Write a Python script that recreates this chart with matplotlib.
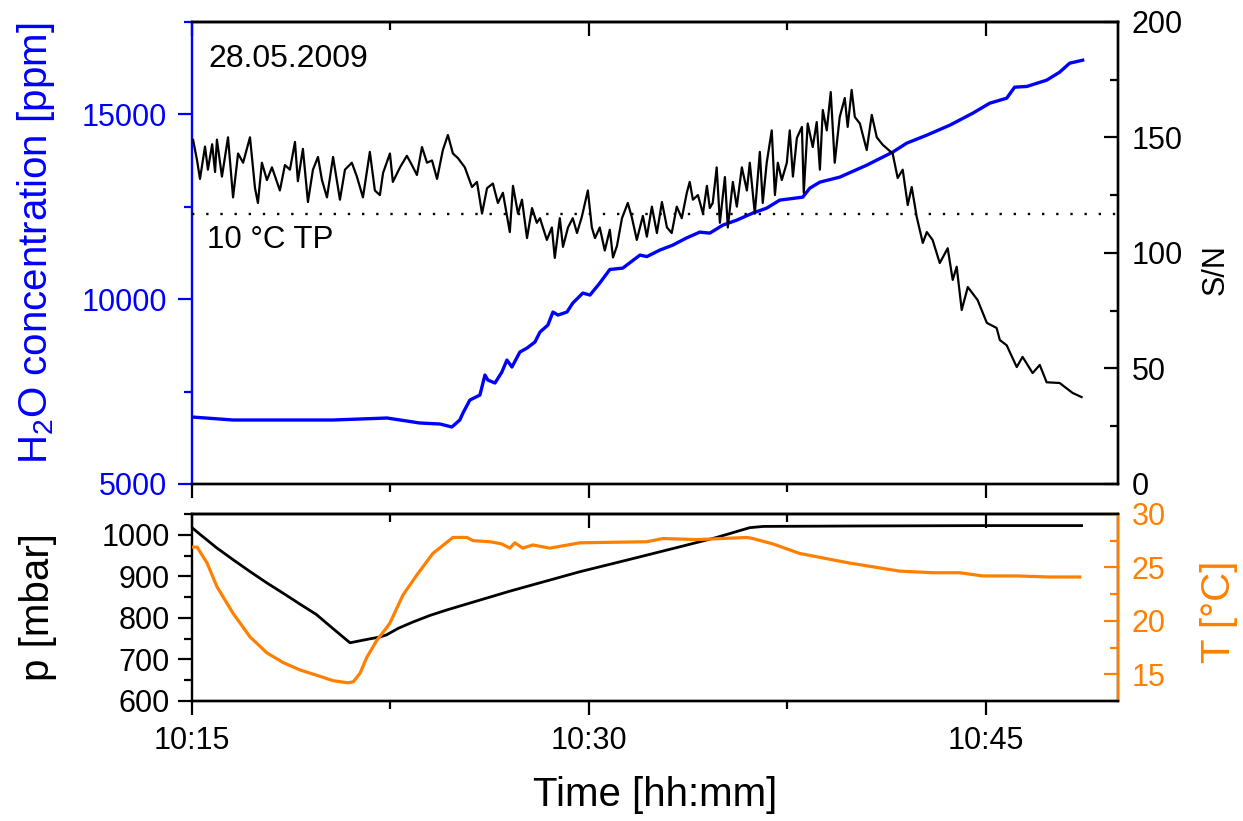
import matplotlib
matplotlib.use('Agg')
import matplotlib.pyplot as plt
from matplotlib.ticker import MultipleLocator, FuncFormatter, NullFormatter

plt.rcParams['font.family'] = ['Liberation Sans', 'DejaVu Sans']
plt.rcParams['mathtext.default'] = 'regular'

# ---------------- data (time in minutes after 10:15) ----------------
h2o_t = [0.00, 1.55, 5.33, 7.37, 8.61, 9.37, 9.82, 10.12, 10.24, 10.50,
         10.88, 11.07, 11.18, 11.45, 11.71, 11.90, 12.09, 12.39, 12.66, 12.96,
         13.15, 13.45, 13.64, 13.83, 14.17, 14.39, 14.77, 15.04, 15.41, 15.79,
         16.28, 16.93, 17.19, 17.68, 18.17, 18.68, 19.19, 19.57, 20.06, 20.59,
         21.19, 21.72, 22.21, 23.08, 23.35, 23.73, 24.48, 25.50, 26.48, 27.01,
         27.77, 28.64, 29.51, 30.15, 30.79, 31.09, 31.55, 32.30, 32.79, 33.17,
         33.66]
h2o_ppm = [6811, 6730, 6730, 6784, 6649, 6622, 6541, 6730, 6919, 7270,
           7405, 7946, 7811, 7730, 8027, 8352, 8163, 8568, 8676, 8838,
           9108, 9298, 9650, 9568, 9650, 9892, 10163, 10109, 10433, 10800,
           10838, 11190, 11150, 11325, 11460, 11650, 11811, 11784, 12000, 12136,
           12325, 12460, 12676, 12757, 13000, 13163, 13298, 13622, 13974, 14217,
           14433, 14703, 15028, 15298, 15433, 15731, 15750, 15920, 16136, 16380,
           16460]

sn_t = [0.04, 0.19, 0.30, 0.49, 0.60, 0.76, 0.87, 0.94, 1.13, 1.36,
        1.55, 1.74, 1.93, 2.19, 2.38, 2.49, 2.64, 2.83, 3.02, 3.32,
        3.51, 3.70, 3.89, 4.00, 4.19, 4.38, 4.57, 4.76, 4.91, 5.10,
        5.33, 5.59, 5.78, 6.04, 6.23, 6.46, 6.72, 6.91, 7.10, 7.22,
        7.48, 7.59, 7.86, 8.12, 8.31, 8.50, 8.69, 8.88, 9.07, 9.26,
        9.48, 9.67, 9.86, 10.05, 10.31, 10.58, 10.77, 10.96, 11.15, 11.37,
        11.56, 11.75, 12.01, 12.13, 12.32, 12.47, 12.66, 12.85, 13.03, 13.15,
        13.41, 13.60, 13.71, 13.90, 14.02, 14.21, 14.39, 14.55, 14.73, 14.96,
        15.11, 15.23, 15.41, 15.60, 15.79, 15.91, 16.06, 16.25, 16.47, 16.62,
        16.81, 17.04, 17.19, 17.38, 17.57, 17.76, 17.95, 18.13, 18.32, 18.51,
        18.70, 18.81, 18.93, 19.12, 19.31, 19.46, 19.57, 19.68, 19.83, 19.95,
        20.14, 20.25, 20.44, 20.59, 20.78, 20.97, 21.08, 21.27, 21.46, 21.57,
        21.72, 21.91, 22.03, 22.14, 22.29, 22.48, 22.59, 22.71, 22.86, 23.05,
        23.12, 23.27, 23.46, 23.61, 23.73, 23.84, 23.99, 24.14, 24.29, 24.48,
        24.67, 24.78, 24.93, 25.05, 25.24, 25.50, 25.69, 25.88, 26.11, 26.48,
        26.67, 26.86, 27.05, 27.20, 27.39, 27.62, 27.77, 27.99, 28.26, 28.56,
        28.75, 28.90, 29.09, 29.32, 29.69, 30.04, 30.41, 30.53, 30.79, 31.17,
        31.39, 31.77, 32.04, 32.30, 32.79, 33.28, 33.62]
sn_val = [148.9, 140, 132, 146, 136, 147, 135, 149, 133, 150,
          124, 143, 139, 150, 128, 121.6, 139, 131.5, 137, 127,
          138, 136, 148, 131, 145, 122, 136, 141.5, 131.5, 124,
          141.5, 123, 136, 139, 133, 124, 143.7, 127, 125, 134.6,
          143, 130.7, 137, 142, 138, 133.7, 145.8, 139, 140, 132,
          144.5, 151, 143, 141, 137, 128.5, 130.7, 117, 128, 130,
          121.6, 126, 109, 129, 117, 123, 106.4, 119.4, 113, 115,
          105.6, 111, 97.8, 115, 102.6, 111, 115, 108.6, 115.5, 127,
          111, 106.4, 111, 101, 110, 98, 103, 115, 121.6, 115.5,
          105.6, 116, 107, 120, 108.6, 122, 111, 108.6, 120, 115,
          126, 130.7, 123, 125, 117, 129, 119.4, 121.6, 137, 113,
          132.8, 111, 130.7, 120, 137, 127, 139, 117, 143.7, 121.6,
          139, 153, 125, 139, 131.5, 139, 153, 133, 149.7, 154.5,
          126, 156, 145.8, 156.6, 136, 161.8, 153, 169.6, 139, 158.8,
          167, 154.5, 170.5, 158.8, 156, 144.5, 159.7, 150, 146.7, 143,
          132.4, 136, 120.7, 128.5, 115.5, 104.3, 109, 105.6, 95.6, 102,
          88.3, 94, 75.3, 85.2, 79.6, 69.7, 67.5, 62.3, 60, 50.6,
          55, 48, 51.5, 44, 43.7, 39.4, 37.6]

sn_threshold = 117  # 10 °C TP

p_t = [0.00, 0.30, 0.94, 1.55, 2.20, 2.83, 3.50, 4.08, 4.70, 5.33,
       5.97, 6.60, 7.10, 7.35, 7.80, 8.35, 9.00, 9.63, 12.0, 14.66,
       16.5, 18.44, 19.8, 21.08, 21.6, 25.0, 30.0, 33.62]
p_mbar = [1017, 1001, 968, 940, 911, 884, 857, 833, 808, 774,
          740, 748, 754, 759, 775, 790, 806, 819, 864, 911,
          940, 971, 993, 1017, 1020, 1021, 1022, 1022]

T_t = [0.00, 0.19, 0.57, 0.94, 1.55, 2.19, 2.83, 3.44, 4.08, 4.72,
       5.33, 5.89, 6.10, 6.35, 6.61, 6.99, 7.37, 7.48, 7.97, 8.50,
       9.10, 9.86, 10.39, 10.62, 11.26, 11.70, 12.01, 12.20, 12.50, 12.88,
       13.52, 14.66, 17.19, 17.79, 19.08, 20.97, 21.19, 21.95, 22.97, 24.86,
       26.75, 28.00, 29.01, 29.88, 31.17, 32.41, 33.55]
T_degC = [26.9, 26.9, 25.4, 23.2, 20.7, 18.5, 17.0, 16.1, 15.4, 14.9,
          14.4, 14.2, 14.3, 15.1, 16.6, 18.2, 19.4, 19.8, 22.4, 24.3,
          26.3, 27.8, 27.8, 27.5, 27.4, 27.2, 26.8, 27.3, 26.8, 27.1,
          26.8, 27.3, 27.4, 27.7, 27.6, 27.8, 27.7, 27.2, 26.3, 25.4,
          24.65, 24.5, 24.5, 24.2, 24.2, 24.1, 24.1]

BLUE = '#0000FF'
ORANGE = '#FF8000'

fig = plt.figure(figsize=(12.43, 8.21), dpi=100)
ax1 = fig.add_axes([0.1545, 0.4105, 0.745, 0.563])
ax3 = fig.add_axes([0.1545, 0.1462, 0.745, 0.2278], sharex=ax1)
ax2 = ax1.twinx()
ax4 = ax3.twinx()

TS = 22
LS = 29
MAJ, MIN, TW = 10.0, 5.5, 1.6
SW = 1.7

def fmt_time(v, pos):
    m = 15 + int(round(v))
    return f"{10 + m // 60}:{m % 60:02d}"

# ---- top panel ----
ax1.plot(h2o_t, h2o_ppm, color=BLUE, lw=2.4)
ax1.set_xlim(0, 35)
ax1.set_ylim(5000, 17500)
ax1.yaxis.set_major_locator(MultipleLocator(5000))
ax1.yaxis.set_minor_locator(MultipleLocator(2500))
ax1.xaxis.set_major_locator(MultipleLocator(15))
ax1.xaxis.set_minor_locator(MultipleLocator(7.5))
ax1.tick_params(axis='y', which='both', direction='out', colors=BLUE, width=TW,
                labelsize=TS, pad=8)
ax1.tick_params(axis='y', which='major', length=MAJ)
ax1.tick_params(axis='y', which='minor', length=MIN)
ax1.tick_params(axis='x', which='both', direction='out', width=TW, top=False,
                labelbottom=False)
ax1.tick_params(axis='x', which='major', length=MAJ)
ax1.tick_params(axis='x', which='minor', length=MIN)
ax1.set_ylabel(r'H$_2$O concentration [ppm]', fontsize=LS, color=BLUE)
ax1.yaxis.set_label_coords(-0.146, 0.52)
for s in ['top', 'bottom', 'right']:
    ax1.spines[s].set_linewidth(SW)
ax1.spines['left'].set_color(BLUE)
ax1.spines['left'].set_linewidth(SW)

sec1 = ax1.secondary_xaxis('top')
sec1.xaxis.set_major_locator(MultipleLocator(15))
sec1.xaxis.set_minor_locator(MultipleLocator(7.5))
sec1.xaxis.set_major_formatter(NullFormatter())
sec1.tick_params(axis='x', which='both', direction='in', width=TW)
sec1.tick_params(axis='x', which='major', length=MAJ)
sec1.tick_params(axis='x', which='minor', length=MIN)
sec1.spines['top'].set_linewidth(SW)

ax2.plot(sn_t, sn_val, color='black', lw=1.6)
ax2.axhline(sn_threshold, color='black', lw=1.7, ls=(0, (1, 5)))
ax2.set_ylim(0, 200)
ax2.yaxis.set_major_locator(MultipleLocator(50))
ax2.yaxis.set_minor_locator(MultipleLocator(25))
ax2.tick_params(axis='y', which='both', direction='in', width=TW, labelsize=TS, pad=10)
ax2.tick_params(axis='y', which='major', length=MAJ)
ax2.tick_params(axis='y', which='minor', length=MIN)
ax2.set_ylabel('S/N', fontsize=TS)
ax2.yaxis.set_label_coords(1.0896, 0.463)
ax2.spines['left'].set_visible(False)
for s in ['top', 'bottom', 'right']:
    ax2.spines[s].set_linewidth(SW)

ax1.text(0.018, 0.92, '28.05.2009', transform=ax1.transAxes, fontsize=23,
         va='center', ha='left')
ax1.text(0.016, 0.528, '10 °C TP', transform=ax1.transAxes, fontsize=22.5,
         va='center', ha='left')

# ---- bottom panel ----
ax3.plot(p_t, p_mbar, color='black', lw=2.0)
ax3.set_ylim(600, 1050)
ax3.yaxis.set_major_locator(MultipleLocator(100))
ax3.yaxis.set_minor_locator(MultipleLocator(50))
ax3.xaxis.set_major_formatter(FuncFormatter(fmt_time))
ax3.tick_params(axis='y', which='both', direction='out', width=TW, labelsize=TS, pad=6)
ax3.tick_params(axis='y', which='major', length=MAJ)
ax3.tick_params(axis='y', which='minor', length=MIN)
ax3.tick_params(axis='x', which='both', direction='out', width=TW, top=False,
                labelsize=TS, pad=8)
ax3.tick_params(axis='x', which='major', length=MAJ)
ax3.tick_params(axis='x', which='minor', length=MIN)
ax3.set_ylabel('p [mbar]', fontsize=LS)
ax3.yaxis.set_label_coords(-0.1458, 0.5)
ax3.set_xlabel('Time [hh:mm]', fontsize=LS)
ax3.xaxis.set_label_coords(0.5, -0.40)
for s in ax3.spines.values():
    s.set_linewidth(SW)

sec3 = ax3.secondary_xaxis('top')
sec3.xaxis.set_major_locator(MultipleLocator(15))
sec3.xaxis.set_minor_locator(MultipleLocator(7.5))
sec3.xaxis.set_major_formatter(NullFormatter())
sec3.tick_params(axis='x', which='both', direction='in', width=TW)
sec3.tick_params(axis='x', which='major', length=MAJ)
sec3.tick_params(axis='x', which='minor', length=MIN)
sec3.spines['top'].set_linewidth(SW)

ax4.plot(T_t, T_degC, color=ORANGE, lw=2.3)
ax4.set_ylim(12.5, 30)
ax4.yaxis.set_major_locator(MultipleLocator(5))
ax4.yaxis.set_minor_locator(MultipleLocator(2.5))
ax4.tick_params(axis='y', which='both', direction='in', colors=ORANGE, width=TW,
                labelsize=TS, pad=10)
ax4.tick_params(axis='y', which='major', length=MAJ)
ax4.tick_params(axis='y', which='minor', length=MIN)
ax4.set_ylabel('T [°C]', fontsize=LS, color=ORANGE)
ax4.yaxis.set_label_coords(1.0886, 0.479)
ax4.spines['left'].set_visible(False)
ax4.spines['right'].set_color(ORANGE)
for s in ax4.spines.values():
    s.set_linewidth(SW)

fig.savefig('out.png', dpi=100)
